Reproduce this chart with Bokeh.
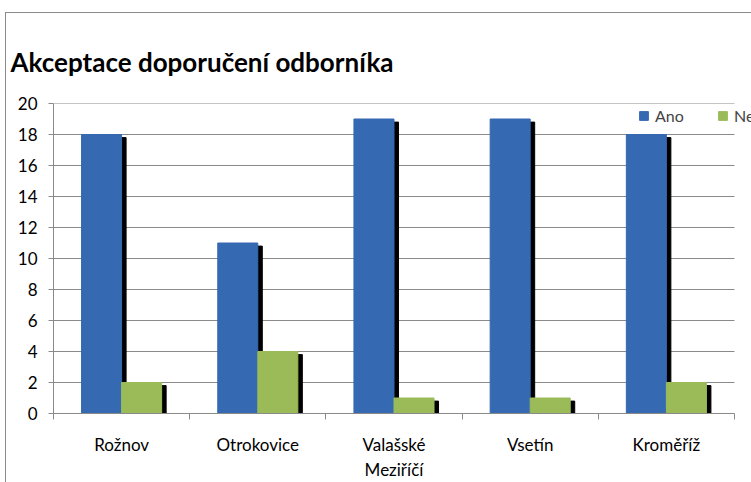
from bokeh.plotting import figure
from bokeh.models import (ColumnDataSource, Range1d, FixedTicker, Legend,
                          LegendItem)
from bokeh.transform import dodge
from bokeh.embed import file_html
from bokeh.resources import INLINE

# ---- data ----
categories = ["Rožnov", "Otrokovice", "Valašské Meziříčí", "Vsetín", "Kroměříž"]
ano = [18, 11, 19, 19, 18]
ne = [2, 4, 1, 1, 2]
y_ticks = [0, 2, 4, 6, 8, 10, 12, 14, 16, 18, 20]
series_names = ["Ano", "Ne"]
title_text = "Akceptace doporučení odborníka"

BLUE = "#3569b2"
GREEN = "#9bbb59"
GRID = "#8a8a8a"
FONT = "Lato"

n = len(categories)
xs = list(range(n))
shadow_drop = 0.2
src = ColumnDataSource(dict(
    x=xs, cat=categories, ano=ano, ne=ne,
    ano_sh=[v - shadow_drop for v in ano],
    ne_sh=[v - shadow_drop for v in ne],
))

# frame extends a little past the last category so the legend is not clipped
p = figure(x_range=Range1d(-0.5, n - 0.5 + 0.125), y_range=Range1d(0, 20),
           width=751, height=482, output_backend="svg", toolbar_location=None,
           min_border_left=53, min_border_right=0,
           min_border_top=103, min_border_bottom=68)
p.outline_line_color = None
p.background_fill_color = "white"
p.border_fill_alpha = 0
p.styles = {
    "background-color": "white",
    "background-image": "linear-gradient(#8a8a8a, #8a8a8a), linear-gradient(#8a8a8a, #8a8a8a)",
    "background-size": "1px 100%, 100% 1px",
    "background-position": "5px 12px, 5px 12px",
    "background-repeat": "no-repeat",
}

# horizontal gridlines limited to the category span
grid_ys = y_ticks[1:]
grid_src = ColumnDataSource(dict(x0=[-0.5] * len(grid_ys),
                                 x1=[n - 0.5] * len(grid_ys), y=grid_ys))
p.segment(x0="x0", x1="x1", y0="y", y1="y", source=grid_src,
          line_color=GRID, line_width=1, level="underlay")

bw = 0.294
off = 0.147
sh = 0.033
p.vbar(x=dodge("x", -off + sh), top="ano_sh", width=bw, source=src, color="black")
r_ano = p.vbar(x=dodge("x", -off), top="ano", width=bw, source=src, color=BLUE)
p.vbar(x=dodge("x", off + sh), top="ne_sh", width=bw, source=src, color="black")
r_ne = p.vbar(x=dodge("x", off), top="ne", width=bw, source=src, color=GREEN)

# y axis
yax = p.yaxis[0]
yax.ticker = FixedTicker(ticks=y_ticks)
yax.axis_line_color = GRID
yax.major_tick_line_color = GRID
yax.major_tick_out = 5
yax.major_tick_in = 0
yax.minor_tick_line_color = None
yax.major_label_standoff = 11
yax.major_label_text_font = FONT
yax.major_label_text_font_size = "17px"
yax.major_label_text_color = "black"

p.ygrid.grid_line_color = None
p.xgrid.grid_line_color = None

# x axis: labels at category centres, tick marks at category boundaries
xax = p.xaxis[0]
xax.bounds = (-0.5, n - 0.5)
xax.ticker = FixedTicker(ticks=xs, minor_ticks=[i - 0.5 for i in range(n + 1)])
xax.major_label_overrides = {i: c.replace("Valašské Meziříčí", "Valašské\nMeziříčí")
                             for i, c in enumerate(categories)}
xax.axis_line_color = GRID
xax.major_tick_line_color = None
xax.major_tick_out = 6
xax.major_tick_in = 0
xax.minor_tick_line_color = GRID
xax.minor_tick_out = 6
xax.minor_tick_in = 0
xax.major_label_standoff = 14
xax.major_label_text_font = FONT
xax.major_label_text_font_size = "17px"
xax.major_label_text_line_height = 1.2
xax.major_label_text_color = "black"

# title
p.title.text = title_text
p.title.text_font = FONT
p.title.text_font_style = "bold"
p.title.text_font_size = "26px"
p.title.text_color = "black"
p.title.align = "left"
p.title.offset = -43
p.title.standoff = 52

legend = Legend(items=[LegendItem(label=series_names[0], renderers=[r_ano]),
                       LegendItem(label=series_names[1], renderers=[r_ne])],
                orientation="horizontal", location=(585, 288),
                padding=13, margin=0, spacing=0,
                glyph_width=11, glyph_height=11, label_width=62,
                label_height=11, label_standoff=6,
                label_text_font=FONT, label_text_font_size="16px",
                border_line_color=None, background_fill_color="white",
                background_fill_alpha=1.0)
p.add_layout(legend)

open("out.html", "w").write(file_html(p, INLINE))
